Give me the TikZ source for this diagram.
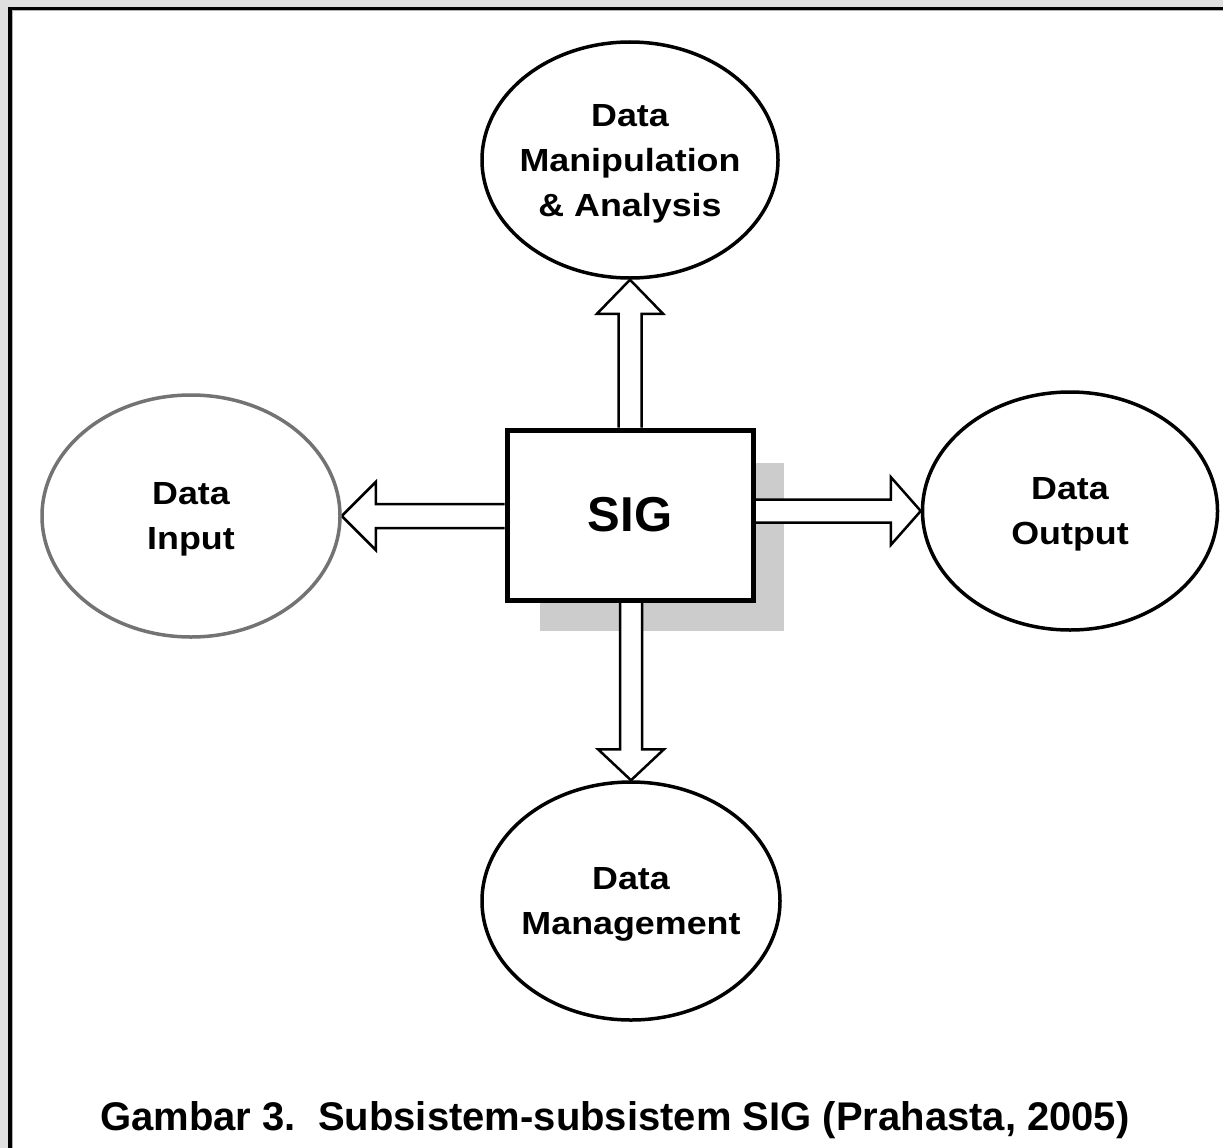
\documentclass[tikz,border=0pt]{standalone}
\usepackage{fontspec}
\setmainfont{Liberation Sans}
\newfontfamily\lblfont{Liberation Sans}[FakeStretch=1.12]
\usetikzlibrary{shapes.geometric,calc}
\pgfdeclarelayer{paper}
\pgfdeclarelayer{under}
\pgfsetlayers{paper,under,main}
\begin{document}
\begin{tikzpicture}[x=1pt,y=-1pt,
  oval/.style={ellipse,draw=black,line width=3.5pt,inner xsep=-60pt,inner ysep=-50pt,align=center,
    text depth=0pt,font=\lblfont\bfseries\fontsize{32}{45}\selectfont},
  barrow/.style={draw=black,fill=white,line width=2.5pt,line join=miter},
  sigbox/.style={rectangle,draw=black,fill=white,line width=5pt,minimum width=246pt,
    minimum height=170pt,inner sep=0pt,font=\bfseries\fontsize{49}{55}\selectfont},
  captext/.style={font=\bfseries\fontsize{40}{48}\selectfont,anchor=base,inner sep=0pt}]
\useasboundingbox (0,0) rectangle (1223,1148);
\begin{pgfonlayer}{paper}
  \fill[gray!25] (0,0) rectangle (1223,1148);
  \fill[white] (12,10) rectangle (1223,1148);
  \fill[black] (8,7) rectangle (12,1148);
  \fill[black] (8,7) rectangle (1223,10);
  \fill[gray!60] (12,10) rectangle (13,1148);
  \fill[gray!60] (12,10) rectangle (1223,11);
\end{pgfonlayer}

\node[oval,minimum width=296pt,minimum height=236pt] (man) at (630,160) {Data\\Manipulation\\\& Analysis};
\node[oval,draw=black!55,minimum width=298pt,minimum height=242pt] (in) at (191,516) {Data\\Input};
\node[oval,minimum width=295pt,minimum height=238pt] (out) at (1070,511) {Data\\Output};
\node[oval,minimum width=298pt,minimum height=238pt] (mgmt) at (631,901) {Data\\Management};
\node[sigbox] (sig) at (630,515) {SIG};

\begin{pgfonlayer}{under}
  \fill[gray!40] (540,463) rectangle (784,631);
  % left arrow
  \draw[barrow] ($(sig.west |- in.east)+(0,-12)$) -- ($(in.east)+(34,-12)$) -- ($(in.east)+(34,-34)$)
     -- (in.east) -- ($(in.east)+(34,34)$) -- ($(in.east)+(34,12)$) -- ($(sig.west |- in.east)+(0,12)$);
  % right arrow
  \draw[barrow] ($(sig.east |- out.west)+(0,-11.5)$) -- ($(out.west)+(-30,-11.5)$) -- ($(out.west)+(-30,-34)$)
     -- (out.west) -- ($(out.west)+(-30,34)$) -- ($(out.west)+(-30,11.5)$) -- ($(sig.east |- out.west)+(0,11.5)$);
  % up arrow
  \draw[barrow] ($(sig.north -| man.south)+(-11.5,0)$) -- ($(man.south)+(-11.5,34)$) -- ($(man.south)+(-33,34)$)
     -- (man.south) -- ($(man.south)+(33,34)$) -- ($(man.south)+(11.5,34)$) -- ($(sig.north -| man.south)+(11.5,0)$);
  % down arrow
  \draw[barrow] ($(sig.south -| mgmt.north)+(-11,0)$) -- ($(mgmt.north)+(-11,-31)$) -- ($(mgmt.north)+(-33,-31)$)
     -- (mgmt.north) -- ($(mgmt.north)+(33,-31)$) -- ($(mgmt.north)+(11,-31)$) -- ($(sig.south -| mgmt.north)+(11,0)$);
\end{pgfonlayer}

\node[captext] (cap) at (615,1130) {Gambar 3.\ \ Subsistem-subsistem SIG (Prahasta, 2005)};
\end{tikzpicture}
\end{document}
